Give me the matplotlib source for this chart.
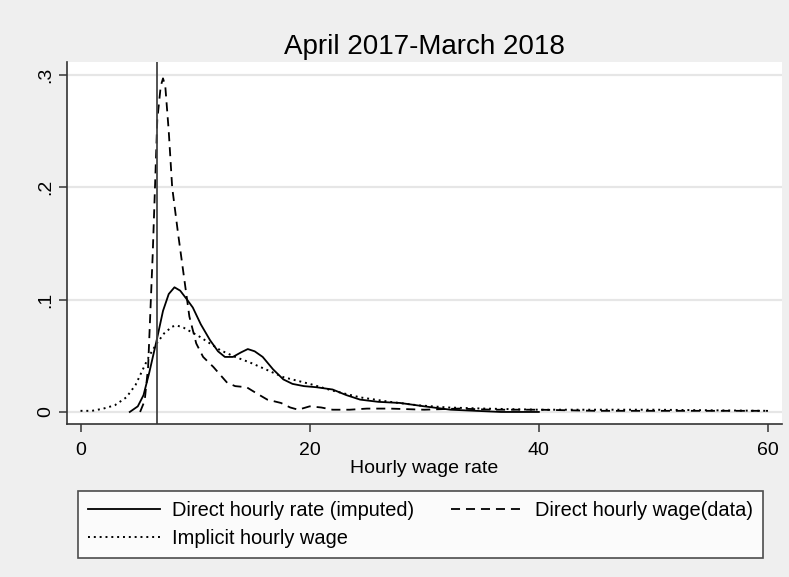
import numpy as np
import matplotlib.pyplot as plt

plt.rcParams['font.family'] = ['Liberation Sans', 'DejaVu Sans']

# Kernel density curves
x_imputed = [4.3, 5.0, 5.5, 6.0, 6.65, 7.2, 7.7, 8.2, 8.7, 9.3, 9.8, 10.5, 11.3, 12.0,
             12.6, 13.3, 14.0, 14.6, 15.2, 15.9, 16.8, 17.7, 18.5, 19.5, 20.6, 22.0,
             23.2, 24.4, 26.0, 27.9, 30.0, 32.3, 34.5, 36.7, 40.0]
y_imputed = [0.0, 0.005, 0.015, 0.035, 0.064, 0.09, 0.105, 0.111, 0.108, 0.100, 0.093,
             0.078, 0.064, 0.054, 0.049, 0.049, 0.053, 0.056, 0.054, 0.049, 0.038, 0.029,
             0.025, 0.023, 0.022, 0.020, 0.015, 0.011, 0.009, 0.008, 0.005, 0.002, 0.001,
             0.0, 0.0]

x_data = [5.2, 5.6, 5.9, 6.3, 6.7, 7.0, 7.2, 7.4, 7.7, 8.0, 8.5, 9.1, 9.5, 10.1, 10.7,
          11.6, 12.8, 13.5, 14.5, 15.3, 16.3, 17.5, 18.3, 19.0, 20.0, 21.0, 22.0, 23.5,
          25.0, 27.0, 30.0, 33.0, 36.0, 40.0, 45.0, 50.0, 55.0, 60.0]
y_data = [0.0, 0.01, 0.04, 0.14, 0.26, 0.29, 0.297, 0.29, 0.25, 0.20, 0.16, 0.115, 0.085,
          0.061, 0.049, 0.040, 0.026, 0.023, 0.022, 0.017, 0.011, 0.008, 0.004, 0.002,
          0.005, 0.004, 0.002, 0.002, 0.003, 0.003, 0.002, 0.003, 0.002, 0.002, 0.001,
          0.001, 0.001, 0.001]

x_implicit = [0, 1, 2, 3, 4, 4.8, 5.4, 6.0, 6.65, 7.3, 8.0, 8.4, 9.0, 9.7, 10.4, 11.3,
              12.2, 13.5, 14.8, 15.7, 17.7, 20.0, 22.0, 24.4, 27.0, 29.4, 32.0, 35.2,
              40.0, 50.0, 60.0]
y_implicit = [0.001, 0.001, 0.003, 0.006, 0.013, 0.024, 0.037, 0.05, 0.061, 0.07, 0.076,
              0.077, 0.075, 0.071, 0.067, 0.061, 0.055, 0.049, 0.044, 0.040, 0.031, 0.025,
              0.019, 0.013, 0.009, 0.006, 0.004, 0.003, 0.002, 0.002, 0.001]

min_wage = 6.65

bg = '#efefef'
fig = plt.figure(figsize=(7.89, 5.77), dpi=100, facecolor=bg)
ax = fig.add_axes([0.0849, 0.2652, 0.9062, 0.6274])
ax.set_facecolor('white')

l1, = ax.plot(x_imputed, y_imputed, color='black', lw=1.3, ls='-',
              label='Direct hourly rate (imputed)')
l2, = ax.plot(x_data, y_data, color='black', lw=1.3, ls=(0, (5, 3.3)),
              label='Direct hourly wage(data)')
l3, = ax.plot(x_implicit, y_implicit, color='black', lw=1.4, ls=(0, (1, 2)),
              label='Implicit hourly wage')
ax.axvline(min_wage, color='#444444', lw=1.3)

ax.set_xlim(-1.18, 61.22)
ax.set_ylim(-0.0107, 0.3116)
ax.set_xticks([0, 20, 40, 60])
ax.set_yticks([0, 0.1, 0.2, 0.3])
ax.set_yticklabels(['0', '.1', '.2', '.3'], rotation=90, va='center')
ax.yaxis.grid(True, color='#e6e6e6', lw=1.6)
ax.set_axisbelow(True)
ax.tick_params(labelsize=14, length=6, width=1.2, direction='out', color='#444444')
ax.tick_params(axis='x', pad=7)
ax.tick_params(axis='y', pad=3)
ax.spines['top'].set_visible(False)
ax.spines['right'].set_visible(False)
for s in ['left', 'bottom']:
    ax.spines[s].set_color('#333333')
    ax.spines[s].set_linewidth(1.2)

ax.set_title('April 2017-March 2018', fontsize=20, pad=6)
ax.set_xlabel('Hourly wage rate', fontsize=14, labelpad=1)

leg = fig.legend(handles=[l1, l3, l2], loc='upper left',
                 bbox_to_anchor=(78 / 789, 1 - 491 / 577),
                 ncol=2, fontsize=14.4, frameon=True, fancybox=False,
                 edgecolor='#222222', handlelength=3.6, handletextpad=0.6,
                 borderaxespad=0, borderpad=0.5, labelspacing=0.45,
                 columnspacing=1.85)
leg.get_frame().set_linewidth(1.2)

fig.savefig('out.png', dpi=100, facecolor=bg)
